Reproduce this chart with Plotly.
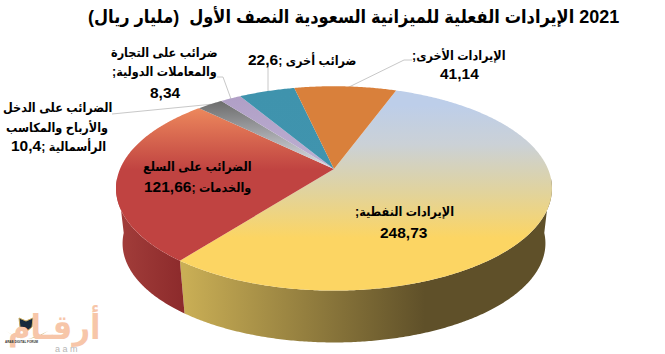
import math
import plotly.graph_objects as go

# ---- data ----
categories = ["الإيرادات النفطية", "الضرائب على السلع والخدمات", "الضرائب على الدخل والأرباح والمكاسب الرأسمالية",
              "ضرائب على التجارة والمعاملات الدولية", "ضرائب أخرى", "الإيرادات الأخرى"]
values = [248.73, 121.66, 10.4, 8.34, 22.6, 41.14]
value_labels = ["248,73", "121,66", "10,4", "8,34", "22,6", "41,14"]
title_text = "(مليار ريال)  2021 الإيرادات الفعلية للميزانية السعودية النصف الأول"

# ---- styling ----
FONT = "Liberation Sans, DejaVu Sans Condensed, DejaVu Sans, sans-serif"
face_grad = [
    (105, 238, [[0, "#bdcee9"], [0.3, "#cbd1d6"], [0.64, "#e0d39f"], [1, "#fcd563"]]),
    (109, 170, [[0, "#ec875c"], [1, "#c04341"]]),
    (102, 169, [[0, "#6e6e6e"], [1, "#dde0e8"]]),
    (97, 169, [[0, "#b09fc6"], [1, "#bdb0d2"]]),
    (90, 169, [[0, "#3f93ad"], [1, "#4094ae"]]),
    (88, 169, [[0, "#d9803b"], [1, "#d9803b"]]),
]
side_specs = [
    (0, 185, 425, [[0, "#c9ae55"], [1, "#5f5029"]]),
    (1, 117, 185, [[0, "#a33e3b"], [1, "#8c2a2b"]]),
]

# ---- perspective projection of the pie disc ----
CX, CY = 334, 169
A, B, K = 214, 98.5, 0.19
START = 20.0


def rim(theta, scale=1.0, dy=0.0):
    t = math.radians(theta)
    s, c = math.cos(t), math.sin(t)
    w = 1 + K * s
    return CX + scale * A * c / w, CY + dy - scale * B * s / w


def arc(a0, a1, scale=1.0, dy=0.0):
    n = max(3, int(abs(a1 - a0) * 2))
    return [rim(a0 + (a1 - a0) * i / n, scale, dy) for i in range(n + 1)]


total = sum(values)
edges = [START]
for v in values:
    edges.append(edges[-1] + v / total * 360)

fig = go.Figure()

# leader lines
leaders = [
    ([404, 412], [60, 60]), ([404, 347], [60, 88]),
    ([268, 268], [64, 91]),
    ([217, 223, 231], [77, 77, 99]),
    ([112, 224], [114, 103]),
]
for xs, ys in leaders:
    fig.add_trace(go.Scatter(x=xs, y=ys, mode="lines", line=dict(color="#c8c8c8", width=1), hoverinfo="skip"))

# side walls
for idx, x0, x1, cs in side_specs:
    a0, a1 = edges[idx], edges[idx + 1]
    a0 = max(a0, 95)
    a1 = min(a1, 265)
    top = arc(a0, a1)
    bot = arc(a1, a0, 0.97, 55.5)
    pts = top + bot + [top[0]]
    fig.add_trace(go.Scatter(x=[p[0] for p in pts], y=[p[1] for p in pts], mode="none", fill="toself",
                             fillgradient=dict(type="horizontal", start=x0, stop=x1, colorscale=cs),
                             hoverinfo="skip"))

# top face
for i, (y0, y1, cs) in enumerate(face_grad):
    pts = [(CX, CY)] + arc(edges[i], edges[i + 1]) + [(CX, CY)]
    fig.add_trace(go.Scatter(x=[p[0] for p in pts], y=[p[1] for p in pts], mode="none", fill="toself",
                             fillgradient=dict(type="vertical", start=y0, stop=y1, colorscale=cs),
                             hoverinfo="skip", name=categories[i]))

ann = []


def txt(x, y, s, size=15.5, color="#000", bold=True):
    ann.append(dict(x=x, y=y, text=f"<b>{s}</b>" if bold else s, showarrow=False, xanchor="center", yanchor="middle",
                    font=dict(family=FONT, size=size, color=color)))


def num(s):
    return f'<span style="font-size:15.5px">{s}</span>'


LAB = 12.5
txt(353, 17, title_text, 18)
txt(459, 55, ";الإيرادات الأخرى", LAB)
txt(459, 73, value_labels[5])
txt(302, 59, num(value_labels[4]) + "; ضرائب أخرى", LAB)
txt(164, 53, "ضرائب على التجارة", LAB)
txt(164, 72, ";والمعاملات الدولية", LAB)
txt(165, 92, value_labels[3])
txt(57, 108, "الضرائب على الدخل", LAB)
txt(57, 127, "والأرباح والمكاسب", LAB)
txt(58, 145, num(value_labels[2]) + "; الرأسمالية", LAB)
txt(197, 167, "الضرائب على السلع", LAB)
txt(197, 186, num(value_labels[1]) + "; والخدمات", LAB)
txt(404, 212, ";الإيرادات النفطية", LAB)
txt(404, 232, value_labels[0])

# watermark
txt(54, 326, "أرقـام", 34, "#f7c6a9", True)
txt(66, 349, "a a m", 9, "#b5b5b5", False)
txt(22, 342, "ARAB DIGITAL FORUM", 3, "#333333")

shapes = [
    dict(type="path", path="M 19 318 L 26 321 L 33 318 L 32 327 L 26 332 L 20 327 Z",
         fillcolor="#14283c", line=dict(color="#c8a85a", width=1)),
    dict(type="path", path="M 6 331 L 16 337 L 24 339 L 14 336 Z", fillcolor="#c8a85a", line=dict(width=0)),
    dict(type="path", path="M 48 331 L 38 337 L 28 339 L 38 336 Z", fillcolor="#c8a85a", line=dict(width=0)),
]

fig.update_layout(
    width=665, height=354, margin=dict(l=0, r=0, t=0, b=0), showlegend=False,
    paper_bgcolor="white", plot_bgcolor="white",
    xaxis=dict(range=[0, 665], visible=False, fixedrange=True),
    yaxis=dict(range=[354, 0], visible=False, fixedrange=True),
    annotations=ann, shapes=shapes,
)

fig.write_html("out.html", config=dict(displayModeBar=False),
               post_script="document.body.style.margin='0';document.body.style.overflow='hidden';")
